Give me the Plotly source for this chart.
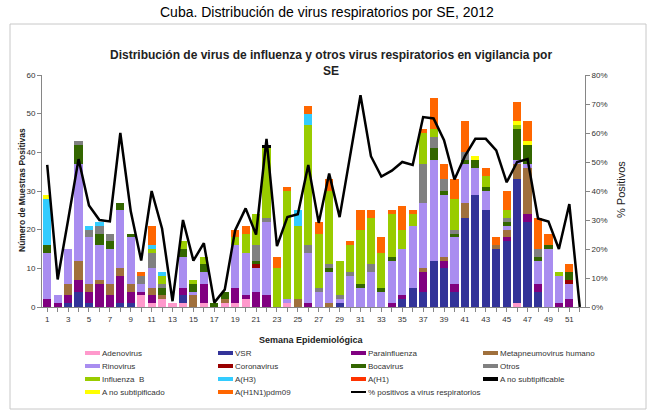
import plotly.graph_objects as go

weeks = list(range(1, 53))
tick_labels = [str(w) if w % 2 == 1 else "" for w in weeks]

adenovirus = [0,0,0,0,0,0,0,0,0,3, 1,2,1,1,0,1,0,1,1,2, 0,0,0,1,0,0,0,0,0,0, 0,0,0,0,0,0,0,0,0,0, 0,0,0,0,0,1,0,0,0,0, 0,0]
vsr        = [0,0,1,4,1,0,0,1,1,0, 0,0,0,2,0,0,0,0,0,0, 0,0,0,0,0,0,0,0,1,0, 0,0,0,0,2,5,4,12,10,4, 23,29,25,15,17,32,22,4,0,0, 0,0]
parainf    = [2,1,2,3,3,6,3,7,3,1, 2,0,0,2,0,5,0,0,4,1, 4,3,0,0,0,1,0,0,0,0, 0,0,0,1,1,0,5,0,2,2, 0,0,0,0,1,0,2,2,0,1, 2,0]
metapneumo = [0,0,3,5,2,1,3,2,2,0, 2,1,0,0,3,0,0,1,0,0, 0,0,0,0,2,0,0,1,0,0, 0,0,0,0,0,0,1,0,1,0, 4,0,0,1,2,4,12,0,0,0, 0,0]
rinovirus  = [12,2,9,25,12,9,9,15,12,2, 5,0,0,8,1,3,0,0,11,11, 6,19,0,1,0,13,4,8,1,8, 5,9,4,11,12,16,17,26,16,12, 10,7,5,0,1,1,1,6,15,7, 4,0]
coronavirus= [0,0,0,0,0,0,0,0,0,0, 0,0,0,0,0,0,0,0,0,0, 1,0,0,0,0,0,0,0,0,0, 0,0,0,0,0,0,0,0,0,0, 0,0,0,0,0,0,0,0,0,0, 1,0]
bocavirus  = [2,0,0,5,0,3,2,2,1,0, 0,2,0,2,2,2,1,2,0,0, 1,0,0,0,0,0,0,1,0,0, 1,0,1,1,0,0,0,3,1,1, 1,2,1,0,1,8,5,1,1,0, 2,0]
otros      = [0,0,0,1,2,2,2,0,0,2, 4,1,0,0,0,0,0,0,0,0, 4,1,0,0,0,2,1,1,1,1, 0,2,0,0,0,0,10,3,3,1, 2,0,0,0,1,0,0,2,0,0, 0,0]
influenzaB = [0,0,0,0,0,0,0,0,0,0, 1,2,0,2,1,2,0,0,2,5, 8,18,10,28,19,31,14,19,9,7, 14,12,9,11,5,3,8,2,0,8, 0,0,3,0,2,1,0,0,0,1, 0,0]
a_h3       = [12,0,0,0,1,1,0,0,0,0, 1,1,0,0,0,0,0,0,0,0, 0,0,0,0,4,3,0,0,0,0, 0,0,0,0,0,0,0,0,0,0, 0,0,0,0,0,0,0,0,0,0, 0,0]
a_h1       = [0]*52
a_no_subtipificable = [0,0,0,0,0,0,0,0,0,0, 0,0,0,0,0,0,0,0,0,0, 0,1,0,0,0,0,0,0,0,0, 0,0,0,0,0,0,0,0,0,0, 0,0,0,0,0,0,0,0,0,0, 0,0]
a_no_subtipificado  = [1,0,0,0,0,0,0,0,0,0, 0,0,0,0,0,0,0,0,0,0, 0,0,0,0,0,0,0,0,0,0, 0,0,0,0,0,0,0,0,0,0, 0,1,0,0,0,1,1,0,0,0, 0,0]
h1n1pdm09  = [0,0,0,0,0,0,0,0,0,1, 5,0,0,0,0,0,0,0,2,2, 0,0,3,1,0,2,3,3,0,1, 5,2,4,1,6,1,1,8,4,5, 8,0,2,2,5,5,5,8,3,0, 2,0]
pct_positivos = [49,9.5,30,51,35,30,29.5,60,33,16, 40,27,2,30,16,22,1.5,6,26.5,34,
                 25,58,21,31,32,49,29,46,31,52, 73,52,45,47,50,49,65.5,65,57.5,44,
                 52,58,58,54,43,50,51,30.5,29.5,20, 35.5,0]

series = [
    ("Adenovirus", adenovirus, "#FF99CC"),
    ("VSR", vsr, "#333399"),
    ("Parainfluenza", parainf, "#800080"),
    ("Metapneumovirus humano", metapneumo, "#A0703C"),
    ("Rinovirus", rinovirus, "#A98DF0"),
    ("Coronavirus", coronavirus, "#990000"),
    ("Bocavirus", bocavirus, "#336600"),
    ("Otros", otros, "#808080"),
    ("Influenza  B", influenzaB, "#99CC00"),
    ("A(H3)", a_h3, "#33CCFF"),
    ("A(H1)", a_h1, "#FF3300"),
    ("A no subtipificable", a_no_subtipificable, "#000000"),
    ("A no subtipificado", a_no_subtipificado, "#FFFF00"),
    ("A(H1N1)pdm09", h1n1pdm09, "#FF6600"),
]
line_name = "% positivos a virus respiratorios"

FONT = "Liberation Sans, Arial, sans-serif"
L, R, T, B = 42, 585, 75, 307
W, H = 652, 414

def PX(x):
    return (x - L) / (R - L)

def PY(y):
    return (B - y) / (B - T)

fig = go.Figure()
for name, vals, col in series:
    fig.add_trace(go.Bar(x=weeks, y=vals, name=name, marker=dict(color=col, line=dict(width=0)),
                         showlegend=False))
fig.add_trace(go.Scatter(x=weeks, y=[p / 100 for p in pct_positivos], name=line_name, mode="lines",
                         line=dict(color="black", width=2.5), yaxis="y2", showlegend=False))

axis_common = dict(showgrid=False, zeroline=False, showline=True, linecolor="#868686", linewidth=1,
                   ticks="outside", ticklen=4, tickcolor="#868686",
                   tickfont=dict(size=8, color="#333333"))
fig.update_layout(
    width=W, height=H,
    margin=dict(l=L, r=W - R, t=T, b=H - B),
    paper_bgcolor="white", plot_bgcolor="white",
    barmode="stack", bargap=0.22,
    font=dict(family=FONT, size=8, color="#333333"),
    xaxis=dict(range=[0.5, 52.5], tickmode="array", tickvals=weeks, ticktext=tick_labels, **axis_common),
    yaxis=dict(range=[0, 60], tickvals=[0, 10, 20, 30, 40, 50, 60], **axis_common),
    yaxis2=dict(range=[0, 0.8], overlaying="y", side="right", tickformat=".0%",
                tickvals=[0, 0.1, 0.2, 0.3, 0.4, 0.5, 0.6, 0.7, 0.8], **axis_common),
)

shapes = [dict(type="rect", xref="paper", yref="paper", x0=PX(10), x1=PX(646), y0=PY(409), y1=PY(24),
               line=dict(color="#C8C8C8", width=1), fillcolor="rgba(0,0,0,0)", layer="below")]
annotations = [
    dict(text="Cuba. Distribución de virus respiratorios por SE, 2012", x=PX(327), y=PY(12),
         xref="paper", yref="paper", showarrow=False, xanchor="center", yanchor="middle",
         font=dict(family=FONT, size=14, color="black")),
    dict(text="<b>Distribución de virus de influenza y otros virus respiratorios en vigilancia por<br>SE</b>",
         x=PX(331), y=PY(63), xref="paper", yref="paper", showarrow=False, xanchor="center",
         yanchor="middle", font=dict(family=FONT, size=12, color="#222222")),
    dict(text="<b>Número de Muestras Positivas</b>", x=PX(22), y=PY(190), xref="paper", yref="paper",
         showarrow=False, textangle=-90, xanchor="center", yanchor="middle",
         font=dict(family=FONT, size=8.5, color="#222222")),
    dict(text="% Positivos", x=PX(621), y=PY(190), xref="paper", yref="paper",
         showarrow=False, textangle=-90, xanchor="center", yanchor="middle",
         font=dict(family=FONT, size=11, color="#222222")),
    dict(text="<b>Semana Epidemiológica</b>", x=PX(311), y=PY(340), xref="paper", yref="paper",
         showarrow=False, xanchor="center", yanchor="middle",
         font=dict(family=FONT, size=9, color="#222222")),
]

# manual legend, 4 columns
legend_items = [(n, c, "bar") for n, _, c in series] + [(line_name, "black", "line")]
col_x = [85, 218, 351, 483]
row_y = [353, 366, 379, 392]
for i, (name, col, kind) in enumerate(legend_items):
    r, c = divmod(i, 4)
    x0, yc = col_x[c], row_y[r]
    h = 2 if kind == "bar" else 1
    shapes.append(dict(type="rect", xref="paper", yref="paper", x0=PX(x0), x1=PX(x0 + 15),
                       y0=PY(yc + h), y1=PY(yc - h), fillcolor=col, line=dict(width=0)))
    annotations.append(dict(text=name.replace("  ", " &nbsp;"), x=PX(x0 + 15), y=PY(yc),
                            xref="paper", yref="paper", showarrow=False, xanchor="left",
                            yanchor="middle", font=dict(family=FONT, size=8, color="#333333")))

fig.update_layout(shapes=shapes, annotations=annotations)
fig.write_html("out.html", config={"displayModeBar": False},
               post_script="document.body.style.margin='0';")
